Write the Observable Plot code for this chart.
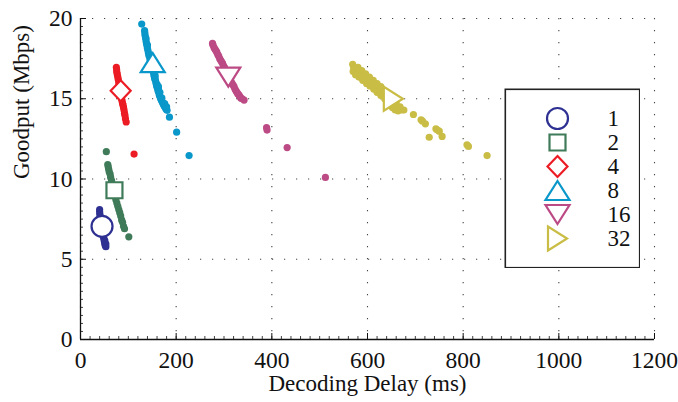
<!DOCTYPE html>
<html>
<head>
<meta charset="utf-8">
<script src="https://cdn.jsdelivr.net/npm/d3@7"></script>
<script src="https://cdn.jsdelivr.net/npm/@observablehq/plot@0.6"></script>
<style>
  html, body { margin: 0; padding: 0; background: #fff; }
  #chart { position: relative; width: 678px; height: 402px; }
  #legend { position: absolute; left: 504px; top: 88px; }
  #chart svg, #chart svg text { font-family: "Liberation Serif", "Times New Roman", serif !important; }
</style>
</head>
<body>
<div id="chart"><div id="legend"></div></div>
<script>
// Block sizes (legend entries) and their colours
const blockSizes = ["1", "2", "4", "8", "16", "32"];
const seriesColors = ["#2e3192", "#3f7b59", "#ec1c24", "#0a97c9", "#bc4a85", "#c9bd46"];

// Mean operating point of each block size: [delay ms, goodput Mbps]
const markerDelay = [45, 71, 84, 151, 309, 654];
const markerGoodput = [7.05, 9.3, 15.5, 17.25, 16.35, 15.0];

// Individual runs per block size: [decoding delay (ms), goodput (Mbps)]
const runs1 = [
  [40, 8.1], [40, 7.95], [40.5, 7.8], [41, 7.65], [41.5, 7.5], [42, 7.35], [43, 7.2],
  [44, 7.0], [45, 6.85], [46, 6.7], [47, 6.55], [48, 6.4], [49, 6.3], [49.5, 6.2],
  [50, 6.1], [51, 6.0], [51.5, 5.9], [52, 5.85], [53, 5.78], [53, 5.95], [51, 6.15]
];
const runs2 = [
  [54, 11.7], [57, 10.9], [58, 10.75], [59, 10.6], [60, 10.45], [62, 10.3], [63, 10.1],
  [65, 9.9], [66, 9.7], [68, 9.5], [70, 9.3], [71, 9.1], [73, 8.9], [74, 8.7], [76, 8.5],
  [78, 8.3], [80, 8.1], [82, 7.9], [84, 7.7], [86, 7.45], [88, 7.3], [90, 7.05],
  [92, 6.9], [101, 6.4]
];
const runs4 = [
  [75, 16.95], [75.5, 16.8], [76, 16.65], [77, 16.5], [78, 16.35], [79, 16.2], [80, 16.0],
  [81, 15.85], [82, 15.7], [83, 15.5], [84, 15.3], [85, 15.15], [86, 15.0], [87, 14.85],
  [88, 14.7], [89, 14.6], [90, 14.45], [91, 14.3], [92, 14.1], [93, 13.95], [94, 13.75],
  [95.5, 13.55], [112, 11.55]
];
const runs8 = [
  [128, 19.65], [134, 19.25], [134.5, 19.1], [135, 18.95], [136, 18.8], [137, 18.6],
  [138, 18.45], [139, 18.3], [140, 18.15], [141, 18.0], [142, 17.85], [143, 17.7],
  [145, 17.5], [146, 17.35], [148, 17.2], [149, 17.0], [150, 16.85], [152, 16.7],
  [153, 16.55], [154, 16.4], [155, 16.25], [157, 16.1], [158, 15.95], [159, 15.8],
  [161, 15.65], [162, 15.5], [164, 15.35], [165, 15.2], [167, 15.05], [169, 14.9],
  [171, 14.8], [173, 14.65], [175, 14.55], [177, 14.45], [179, 14.35], [181, 14.28],
  [160, 15.9], [163, 15.6], [156, 16.3], [137, 18.75], [140, 18.35], [144, 17.75],
  [147, 17.4], [151, 16.95], [156, 16.45], [163, 15.75], [166, 15.4], [170, 15.05],
  [176, 14.7], [180, 14.5], [186, 13.85], [201, 12.92], [227, 11.46]
];
const runs16 = [
  [276, 18.45], [277, 18.35], [279, 18.2], [281, 18.1], [283, 18.0], [285, 17.9],
  [287, 17.75], [289, 17.65], [291, 17.5], [293, 17.4], [295, 17.3], [297, 17.2],
  [299, 17.05], [301, 16.95], [303, 16.8], [306, 16.65], [309, 16.5], [311, 16.35],
  [313, 16.2], [315, 16.05], [317, 15.95], [319, 15.85], [321, 15.75], [323, 15.6],
  [325, 15.5], [327, 15.4], [329, 15.3], [331, 15.25], [333, 15.15], [335, 15.05],
  [338, 15.0], [342, 14.92], [389, 13.2], [390, 13.05], [432, 11.96], [512, 10.1]
];
const runs32 = [
  [569, 17.15], [571, 16.95], [574, 16.85], [577, 16.75], [580, 16.7], [583, 16.6],
  [586, 16.55], [589, 16.45], [592, 16.35], [595, 16.3], [598, 16.25], [601, 16.15],
  [604, 16.05], [607, 16.0], [610, 15.9], [613, 15.85], [616, 15.75], [619, 15.65],
  [622, 15.6], [625, 15.5], [628, 15.45], [631, 15.35], [634, 15.3], [637, 15.2],
  [640, 15.1], [643, 15.05], [646, 14.95], [649, 14.85], [652, 14.75], [655, 14.65],
  [658, 14.55], [661, 14.45], [664, 14.4], [668, 14.35], [672, 14.3], [676, 14.3],
  [570, 16.7], [575, 16.5], [582, 16.35], [590, 16.15], [598, 15.95], [605, 15.8],
  [613, 15.6], [620, 15.4], [628, 15.2], [636, 15.0], [645, 14.7], [652, 14.45],
  [658, 14.3], [664, 14.25], [580, 16.95], [588, 16.75], [596, 16.55], [604, 16.35],
  [612, 16.15], [620, 15.95], [628, 15.75], [636, 15.5], [644, 15.3], [660, 14.75],
  [668, 14.5], [696, 14.02], [712, 13.69], [715, 13.6], [721, 13.44], [729, 12.6],
  [743, 13.13], [746, 13.05], [750, 12.98], [756, 12.65], [808, 12.13], [811, 12.03],
  [850, 11.46]
];

// Axis ticks
const xTicks = [0, 200, 400, 600, 800, 1000, 1200];
const yTicks = [0, 5, 10, 15, 20];
const xMinor = d3.range(0, 1201, 20);
const yMinor = d3.range(0, 20.01, 0.5);

const allRuns = [runs1, runs2, runs4, runs8, runs16, runs32];
const points = allRuns.flatMap((runs, i) =>
  runs.map(([delay, goodput]) => ({series: blockSizes[i], delay, goodput}))
);
const markers = blockSizes.map((s, i) => ({series: s, delay: markerDelay[i], goodput: markerGoodput[i]}));

// Outline marker shapes; radius derived from the symbol area Plot passes in
const rad = (size) => Math.sqrt(size / Math.PI);
const poly = (ctx, pts) => {
  ctx.moveTo(pts[0][0], pts[0][1]);
  for (let k = 1; k < pts.length; ++k) ctx.lineTo(pts[k][0], pts[k][1]);
  ctx.closePath();
};
const markerSymbols = [
  {draw(ctx, size) { const r = rad(size) * 1.05; ctx.moveTo(r, 0); ctx.arc(0, 0, r, 0, 2 * Math.PI); }},
  {draw(ctx, size) { const r = rad(size) * 0.8; poly(ctx, [[-r, -r], [r, -r], [r, r], [-r, r]]); }},
  {draw(ctx, size) { const r = rad(size); poly(ctx, [[0, -1.05 * r], [r, 0], [0, 1.05 * r], [-r, 0]]); }},
  {draw(ctx, size) { const r = rad(size); poly(ctx, [[0, -0.95 * r], [1.2 * r, 0.95 * r], [-1.2 * r, 0.95 * r]]); }},
  {draw(ctx, size) { const r = rad(size); poly(ctx, [[0, 0.95 * r], [1.2 * r, -0.95 * r], [-1.2 * r, -0.95 * r]]); }},
  {draw(ctx, size) { const r = rad(size); poly(ctx, [[0.95 * r, 0], [-0.95 * r, 1.2 * r], [-0.95 * r, -1.2 * r]]); }}
];

const W = 678, H = 402, mL = 80, mR = 24, mT = 18, mB = 63;
const innerW = W - mL - mR, innerH = H - mT - mB;
const font = "'Liberation Serif', 'Times New Roman', serif";
const ink = "#111";
const fs = 23;

const chart = Plot.plot({
  width: W,
  height: H,
  marginLeft: mL,
  marginRight: mR,
  marginTop: mT,
  marginBottom: mB,
  style: {fontFamily: font, fontSize: fs + "px", background: "#fff", color: ink, overflow: "visible"},
  x: {domain: [0, 1200]},
  y: {domain: [0, 20]},
  color: {domain: blockSizes, range: seriesColors},
  marks: [
    // dotted grid
    Plot.gridX(xTicks, {stroke: "#444", strokeOpacity: 1, strokeWidth: 1.1, strokeDasharray: "1.2,10.8"}),
    Plot.gridY(yTicks, {stroke: "#444", strokeOpacity: 1, strokeWidth: 1.1, strokeDasharray: "1.2,10.8"}),
    // inward tick marks
    Plot.ruleX(xMinor, {stroke: ink, strokeWidth: 0.8, insetTop: innerH - 3}),
    Plot.ruleX(xTicks, {stroke: ink, strokeWidth: 1, insetTop: innerH - 6}),
    Plot.ruleY(yMinor, {stroke: ink, strokeWidth: 0.8, insetRight: innerW - 3}),
    Plot.ruleY(yTicks, {stroke: ink, strokeWidth: 1, insetRight: innerW - 6}),
    // axis lines
    Plot.ruleX([0], {stroke: ink, strokeWidth: 1.3}),
    Plot.ruleY([0], {stroke: ink, strokeWidth: 1.3}),
    // tick labels
    Plot.axisX(xTicks, {tickSize: 0, tickPadding: 12, tickFormat: (d) => String(d), label: null, fontSize: fs + 0.5, fill: ink}),
    Plot.axisY(yTicks, {tickSize: 0, tickPadding: 8, tickFormat: (d) => String(d), label: null, fontSize: fs + 0.5, fill: ink}),
    // axis titles
    Plot.text(["Decoding Delay (ms)"], {text: (d) => d, frameAnchor: "bottom", dy: 51.5, fontSize: fs, fill: ink}),
    Plot.text(["Goodput (Mbps)"], {text: (d) => d, frameAnchor: "left", dx: -59, rotate: -90, fontSize: fs, fill: ink}),
    // runs
    Plot.dot(points, {x: "delay", y: "goodput", fill: "series", r: 3.6}),
    // mean markers
    ...markers.map((m, i) =>
      Plot.dot([m], {
        x: "delay", y: "goodput", symbol: markerSymbols[i], r: 10,
        stroke: seriesColors[i], strokeWidth: 2.2, fill: "#fff", strokeLinejoin: "miter"
      })
    )
  ]
});
document.getElementById("chart").prepend(chart);

// Legend box
const legend = Plot.plot({
  width: 136,
  height: 180,
  margin: 0,
  style: {fontFamily: font, fontSize: "23px", background: "#fff", color: ink},
  y: {type: "point", domain: blockSizes, range: [17, 163], axis: null},
  marks: [
    Plot.frame({stroke: "#222", strokeWidth: 1.6, inset: 0.8}),
    ...blockSizes.map((s, i) =>
      Plot.dot([s], {
        y: (d) => d, frameAnchor: "left", dx: 53, symbol: markerSymbols[i], r: 10,
        stroke: seriesColors[i], strokeWidth: 2.2, fill: "#fff", strokeLinejoin: "miter"
      })
    ),
    Plot.text(blockSizes, {y: (d) => d, text: (d) => d, frameAnchor: "left", dx: 103, textAnchor: "start", fontSize: 23, fill: ink})
  ]
});
document.getElementById("legend").appendChild(legend);
</script>
</body>
</html>
